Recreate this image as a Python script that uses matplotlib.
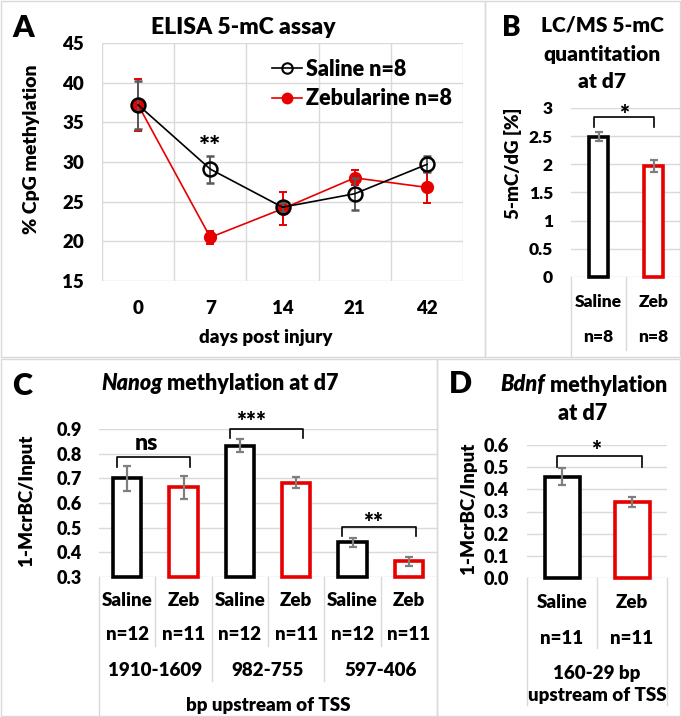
import numpy as np
import matplotlib
matplotlib.use("Agg")
import matplotlib.pyplot as plt
from matplotlib.patches import Rectangle
from matplotlib.lines import Line2D

plt.rcParams['font.family'] = ['Lato', 'DejaVu Sans']
WT = 'heavy'
plt.rcParams['font.weight'] = WT

# ---------------- data ----------------
days = ['0', '7', '14', '21', '42']
saline_mean = [37.2, 29.1, 24.3, 26.0, 29.7]
saline_err = [3.0, 1.7, 0.6, 2.0, 1.0]
zeb_mean = [37.2, 20.5, 24.1, 28.0, 26.8]
zeb_err = [3.3, 0.8, 2.1, 0.95, 2.0]

b_groups = ['Saline', 'Zeb']
b_n = ['n=8', 'n=8']
b_vals = [2.49, 1.97]
b_errs = [0.08, 0.11]

c_groups = ['Saline', 'Zeb', 'Saline', 'Zeb', 'Saline', 'Zeb']
c_n = ['n=12', 'n=11', 'n=12', 'n=11', 'n=12', 'n=11']
c_regions = ['1910-1609', '982-755', '597-406']
c_vals = [0.700, 0.663, 0.833, 0.682, 0.440, 0.364]
c_errs = [0.052, 0.048, 0.026, 0.022, 0.017, 0.019]
c_sig = ['ns', '***', '**']
c_br_top = [0.788, 0.900, 0.503]
c_br_end = [0.747, 0.862, 0.467]

d_groups = ['Saline', 'Zeb']
d_n = ['n=11', 'n=11']
d_vals = [0.457, 0.342]
d_errs = [0.037, 0.022]

BLACK = '#000000'
RED = '#e60000'
GRID = '#d9d9d9'
ERRGRAY = '#7f7f7f'

W, H = 681, 717
fig = plt.figure(figsize=(W / 100, H / 100), dpi=100)


def rect(l, t, r, b):
    return [l / W, 1 - b / H, (r - l) / W, (b - t) / H]


def fx(x):
    return x / W


def fy(y):
    return 1 - y / H


def ftext(x, y, s, size, **kw):
    kw.setdefault('ha', 'center')
    kw.setdefault('va', 'center')
    kw.setdefault('fontweight', WT)
    return fig.text(fx(x), fy(y), s, fontsize=size, **kw)


def mixed_text(xc, yc, parts, size):
    r = fig.canvas.get_renderer()
    ts, ws = [], []
    for s, style in parts:
        t = fig.text(0, fy(yc), s, fontsize=size, fontweight=WT, style=style,
                     va='center', ha='left')
        ts.append(t)
        ws.append(t.get_window_extent(r).width)
    x = xc - sum(ws) / 2
    for t, w in zip(ts, ws):
        t.set_x(fx(x))
        x += w


def border(l, t, r, b):
    fig.add_artist(Rectangle((fx(l), fy(b)), (r - l) / W, (b - t) / H,
                             transform=fig.transFigure, fill=False,
                             ec=GRID, lw=1.0))


def sep(ax, x, y_px, ax_bottom_px, ax_h_px):
    y = (ax_bottom_px - y_px) / ax_h_px
    ax.plot([x, x], [0, y], transform=ax.get_xaxis_transform(), color=GRID,
            lw=1.0, clip_on=False)


def below(ax, x, y_px, s, size, ax_bottom_px, ax_h_px):
    y = (ax_bottom_px - y_px) / ax_h_px
    ax.text(x, y, s, transform=ax.get_xaxis_transform(), ha='center',
            va='center', fontsize=size, fontweight=WT)


def style_bar_axes(ax, ylim, yticks, ylabels, pad, size):
    ax.set_ylim(*ylim)
    ax.set_yticks(yticks)
    ax.set_yticklabels(ylabels, fontsize=size, fontweight=WT)
    ax.set_xticks([])
    ax.tick_params(axis='y', length=0, pad=pad)
    for s in ax.spines.values():
        s.set_visible(False)
    ax.grid(axis='y', color=GRID, lw=1.0)
    ax.set_axisbelow(True)


def bars(ax, vals, errs, colors, width, base):
    x = np.arange(len(vals))
    heights = [v - base for v in vals]
    ax.bar(x, heights, width=width, bottom=base, color='white', edgecolor=colors,
           linewidth=2.6, clip_on=False, zorder=2)
    ax.errorbar(x, vals, yerr=errs, fmt='none', ecolor=ERRGRAY, elinewidth=1.6,
                capsize=3, capthick=1.6, zorder=3)


def bracket(ax, x0, x1, top, end):
    ax.plot([x0, x0, x1, x1], [end, top, top, end], color='black', lw=1.2,
            clip_on=False, zorder=4)


# ---------------- panel borders ----------------
border(1, 1, 485, 357)
border(485, 1, 680, 357)
border(1, 359, 437, 716)
border(437, 359, 680, 716)

# ---------------- Panel A ----------------
axA = fig.add_axes(rect(102, 43, 463, 281))
xa = np.arange(len(days))
axA.set_xlim(-0.5, len(days) - 0.5)
axA.set_ylim(15, 45)
axA.set_yticks(np.arange(15, 46, 5))
axA.set_yticklabels([str(v) for v in range(15, 46, 5)], fontsize=13.5, fontweight=WT)
axA.set_xticks(xa)
axA.set_xticklabels(days, fontsize=13.5, fontweight=WT)
axA.set_xticks(np.arange(-0.5, len(days), 1), minor=True)
axA.tick_params(which='both', length=0)
axA.tick_params(axis='y', pad=13)
axA.tick_params(axis='x', pad=14)
for s in axA.spines.values():
    s.set_visible(False)
axA.grid(axis='y', which='major', color=GRID, lw=1.0)
axA.grid(axis='x', which='minor', color=GRID, lw=1.0)
axA.set_axisbelow(True)

axA.errorbar(xa, zeb_mean, yerr=zeb_err, color=RED, lw=1.2, marker='o', ms=8.5,
             mfc=RED, mec=RED, ecolor=RED, elinewidth=1.4, capsize=3, capthick=1.4,
             zorder=3)
axA.errorbar(xa, saline_mean, yerr=saline_err, color='black', lw=1.2, marker='o',
             ms=10, mfc='none', mec='black', mew=1.8, ecolor='#595959',
             elinewidth=1.4, capsize=3, capthick=1.4, zorder=4)
axA.text(1, 31.9, '**', ha='center', va='center', fontsize=19, fontweight=WT)

handles = [Line2D([], [], color='black', lw=1.2, marker='o', ms=7.5, mfc='none',
                  mec='black', mew=1.5),
           Line2D([], [], color=RED, lw=1.2, marker='o', ms=7.5, mfc=RED, mec=RED)]
axA.legend(handles, ['Saline n=8', 'Zebularine n=8'], loc='upper left',
           bbox_to_anchor=((263 - 102) / 361, (281 - 50) / 238), frameon=False,
           prop={'size': 15.5, 'weight': WT}, handlelength=1.4, handletextpad=0.2,
           labelspacing=0.4, borderaxespad=0)

ftext(23, 28, 'A', 22)
ftext(243, 27, 'ELISA 5-mC assay', 16.5)
ftext(32, 149, '% CpG methylation', 14, rotation=90)
ftext(266, 338, 'days post injury', 13.5)

# ---------------- Panel B ----------------
B_L, B_T, B_R, B_B = 571, 108, 681, 277
axB = fig.add_axes(rect(B_L, B_T, B_R, B_B))
axB.set_xlim(-0.5, 1.5)
style_bar_axes(axB, (0, 3), np.arange(0, 3.01, 0.5),
               ['0', '0.5', '1', '1.5', '2', '2.5', '3'], 13, 12.5)
bars(axB, b_vals, b_errs, [BLACK, RED], 0.36, 0)
bracket(axB, -0.08, 1.0, 2.84, 2.66)
axB.text(0.47, 2.88, '*', ha='center', va='center', fontsize=17, fontweight=WT)
hB = B_B - B_T
sep(axB, -0.5, 357, B_B, hB)
sep(axB, 0.5, 350, B_B, hB)
for i, (g, n) in enumerate(zip(b_groups, b_n)):
    below(axB, i, 302, g, 12.5, B_B, hB)
    below(axB, i, 337, n, 12.5, B_B, hB)

ftext(511, 28, 'B', 20)
ftext(602, 25, 'LC/MS 5-mC', 15)
ftext(602, 55, 'quantitation', 15)
ftext(602, 81, 'at d7', 15)
ftext(513, 163, '5-mC/dG [%]', 13.5, rotation=90)

# ---------------- Panel C ----------------
C_L, C_T, C_R, C_B = 99, 429, 437, 577
axC = fig.add_axes(rect(C_L, C_T, C_R, C_B))
axC.set_xlim(-0.5, len(c_vals) - 0.5)
style_bar_axes(axC, (0.3, 0.9), np.arange(0.3, 0.91, 0.1),
               ['%.1f' % v for v in np.arange(0.3, 0.91, 0.1)], 12, 13)
bars(axC, c_vals, c_errs, [BLACK, RED] * 3, 0.5, 0.3)
for k in range(3):
    i0 = 2 * k
    bracket(axC, i0 - 0.18, i0 + 1.12, c_br_top[k], c_br_end[k])
sig_x = [0.35, 2.2, 4.37]
sig_y = [0.842, 0.93, 0.52]
sig_size = [16.5, 17, 17]
for k in range(3):
    axC.text(sig_x[k], sig_y[k], c_sig[k], ha='center', va='center',
             fontsize=sig_size[k], fontweight=WT, clip_on=False)
hC = C_B - C_T
for x in [0.5, 2.5, 4.5]:
    sep(axC, x, 646, C_B, hC)
for x in [1.5, 3.5]:
    sep(axC, x, 681, C_B, hC)
for x in [-0.5]:
    sep(axC, x, 717, C_B, hC)
for i, (g, n) in enumerate(zip(c_groups, c_n)):
    below(axC, i, 600, g, 13.5, C_B, hC)
    below(axC, i, 635, n, 13.5, C_B, hC)
for k, r in enumerate(c_regions):
    below(axC, 2 * k + 0.5, 670, r, 13.5, C_B, hC)
below(axC, 2.5, 705, 'bp upstream of TSS', 13.5, C_B, hC)

ftext(22, 386, 'C', 22)
mixed_text(220, 383, [('Nanog', 'italic'), (' methylation at d7', 'normal')], 15.5)
ftext(27, 500, '1-McrBC/Input', 13.5, rotation=90)

# ---------------- Panel D ----------------
D_L, D_T, D_R, D_B = 527, 445, 667, 578
axD = fig.add_axes(rect(D_L, D_T, D_R, D_B))
axD.set_xlim(-0.5, 1.5)
style_bar_axes(axD, (0, 0.6), np.arange(0, 0.61, 0.1),
               ['%.1f' % v for v in np.arange(0, 0.61, 0.1)], 13, 13)
bars(axD, d_vals, d_errs, [BLACK, RED], 0.5, 0)
bracket(axD, -0.07, 1.14, 0.55, 0.50)
axD.text(0.49, 0.575, '*', ha='center', va='center', fontsize=17, fontweight=WT)
hD = D_B - D_T
sep(axD, 0.5, 648, D_B, hD)
sep(axD, -0.5, 705, D_B, hD)
sep(axD, 1.5, 705, D_B, hD)
for i, (g, n) in enumerate(zip(d_groups, d_n)):
    below(axD, i, 603, g, 13.5, D_B, hD)
    below(axD, i, 638, n, 13.5, D_B, hD)
below(axD, 0.5, 673, '160-29 bp', 13.5, D_B, hD)
below(axD, 0.5, 695, 'upstream of TSS', 13.5, D_B, hD)

ftext(460, 384, 'D', 22)
mixed_text(584, 385, [('Bdnf', 'italic'), (' methylation', 'normal')], 15.5)
ftext(583, 413, 'at d7', 15.5)
ftext(468, 508, '1-McrBC/Input', 13.5, rotation=90)

fig.savefig('out.png', dpi=100)
